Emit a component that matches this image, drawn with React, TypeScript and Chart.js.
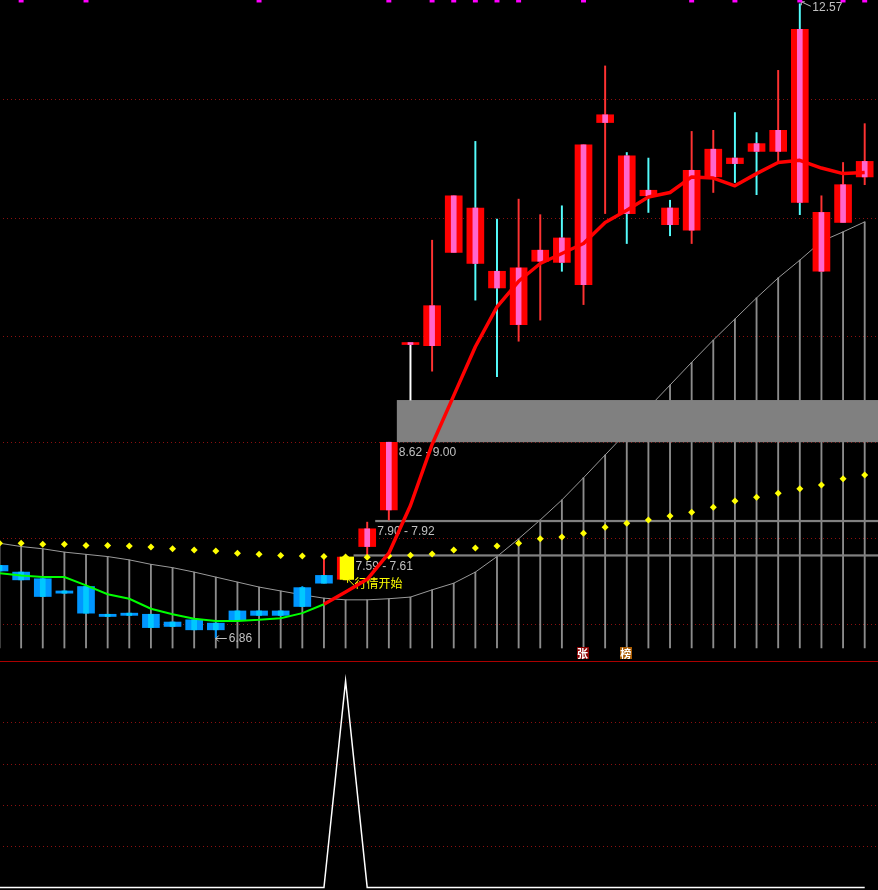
import React, { useEffect, useRef } from 'react';
import { Chart, registerables } from 'chart.js';

Chart.register(...registerables);

// ---------- data ----------
const opens = [7.51, 7.45, 7.39, 7.28, 7.32, 7.07, 7.08, 7.07, 7.00, 7.02, 6.99, 7.10, 7.10, 7.10, 7.31, 7.35, 7.38, 7.68, 8.01, 9.50, 9.49, 10.33, 10.73, 10.16, 9.68, 10.25, 10.46, 10.04, 11.50, 11.20, 10.89, 10.73, 10.53, 11.01, 11.18, 11.31, 11.24, 12.34, 10.16, 10.60, 11.01];
const closes = [7.46, 7.38, 7.23, 7.26, 7.08, 7.05, 7.06, 6.95, 6.96, 6.93, 6.93, 7.02, 7.06, 7.06, 7.14, 7.42, 7.59, 7.84, 8.62, 9.50, 9.85, 10.84, 10.23, 10.01, 10.19, 10.35, 10.24, 11.30, 11.57, 10.68, 10.84, 10.58, 11.07, 11.26, 11.13, 11.24, 11.43, 10.78, 10.69, 10.94, 11.15];
const highs = [7.51, 7.45, 7.39, 7.28, 7.32, 7.07, 7.08, 7.07, 7.00, 7.02, 6.99, 7.10, 7.10, 7.10, 7.32, 7.59, 7.59, 7.90, 8.62, 9.50, 10.44, 10.84, 11.33, 10.63, 10.81, 10.67, 10.75, 11.30, 12.01, 11.23, 11.18, 10.80, 11.42, 11.43, 11.59, 11.41, 11.97, 12.57, 10.84, 11.14, 11.49];
const lows = [7.46, 7.38, 7.23, 7.26, 7.08, 7.05, 7.06, 6.95, 6.96, 6.93, 6.86, 7.02, 7.06, 7.06, 7.14, 7.35, 7.38, 7.61, 7.92, 9.00, 9.26, 10.33, 9.90, 9.21, 9.53, 9.72, 10.16, 9.86, 10.68, 10.41, 10.69, 10.48, 10.41, 10.87, 10.96, 10.85, 11.14, 10.67, 10.16, 10.60, 10.94];

// trend line (green before the signal, red after)
const trendLine = [7.44, 7.42, 7.405, 7.405, 7.33, 7.25, 7.21, 7.12, 7.07, 7.03, 7.01, 7.01, 7.02, 7.035, 7.08, 7.16, 7.27, 7.385, 7.62, 8.05, 8.60, 9.04, 9.48, 9.84, 10.07, 10.23, 10.32, 10.41, 10.60, 10.71, 10.83, 10.87, 11.01, 11.00, 10.93, 11.04, 11.14, 11.16, 11.09, 11.04, 11.05];
// slow gray curve (with sticks)
const slowLine = [7.71, 7.68, 7.66, 7.63, 7.61, 7.59, 7.56, 7.52, 7.49, 7.45, 7.405, 7.36, 7.315, 7.28, 7.245, 7.215, 7.20, 7.20, 7.21, 7.225, 7.29, 7.35, 7.45, 7.59, 7.75, 7.92, 8.10, 8.30, 8.505, 8.71, 8.93, 9.135, 9.34, 9.54, 9.73, 9.92, 10.10, 10.26, 10.43, 10.515, 10.605];
// yellow dotted line
const dotLine = [7.71, 7.71, 7.70, 7.70, 7.69, 7.69, 7.685, 7.675, 7.66, 7.65, 7.64, 7.62, 7.61, 7.60, 7.595, 7.59, 7.585, 7.583, 7.595, 7.602, 7.613, 7.649, 7.667, 7.685, 7.71, 7.75, 7.765, 7.80, 7.855, 7.89, 7.92, 7.955, 7.99, 8.035, 8.09, 8.125, 8.16, 8.20, 8.235, 8.29, 8.325];
// bottom panel signal
const startSignal = [0, 0, 0, 0, 0, 0, 0, 0, 0, 0, 0, 0, 0, 0, 0, 0, 1, 0, 0, 0, 0, 0, 0, 0, 0, 0, 0, 0, 0, 0, 0, 0, 0, 0, 0, 0, 0, 0, 0, 0, 0];

const signalIndex = 16;
const signalText = '行情开始';
const gapStart = [16, 17, 18];
const gapLow = [7.59, 7.90, 8.62];
const gapHigh = [7.61, 7.92, 9.00];
const topMarks = [1, 4, 12, 18, 20, 21, 22, 23, 24, 27, 32, 34, 37, 39, 40];
const iconIdx = [27, 29];
const iconText = ['张', '榜'];
const iconColors = ['#8a0000', '#a85a00'];
const gridLevels = [11.712, 10.64, 9.577, 8.622, 7.757, 6.982];
const subGridLevels = [0.2, 0.4, 0.6, 0.8];
const stickBase = 6.766;

// ---------- axis ranges ----------
const xMin = 0.023;
const xMax = 40.615;
const priceMin = 6.649;
const priceMax = 12.604;
const subMin = -0.0121;
const subMax = 1.0969;

const idx = opens.map((_, i) => i);

const RED = '#ff0000';
const PINK = '#ff66cc';
const BLUE = '#0096ff';
const LBLUE = '#00c8ff';
const YELLOW = '#ffff00';
const GRID = '#8c1010';
const LABEL = '#c0c0c0';

const bodyColor = (i: number) => (i < signalIndex ? BLUE : i === signalIndex ? YELLOW : RED);
const stripeColor = (i: number) => (i < signalIndex ? LBLUE : i === signalIndex ? YELLOW : PINK);
const wickColor = (i: number) =>
  opens[i] === closes[i] ? '#ffffff' : closes[i] > opens[i] ? '#ff3232' : i < signalIndex ? BLUE : '#54fcfc';

function drawDotted(chart: any, levels: number[]) {
  const { ctx, chartArea, scales } = chart;
  ctx.save();
  ctx.strokeStyle = GRID;
  ctx.lineWidth = 1;
  ctx.setLineDash([1, 3]);
  levels.forEach((v) => {
    const y = Math.round(scales.y.getPixelForValue(v)) + 0.5;
    ctx.beginPath();
    ctx.moveTo(chartArea.left + 3, y);
    ctx.lineTo(chartArea.right, y);
    ctx.stroke();
  });
  ctx.restore();
}

function drawGaps(chart: any) {
  const { ctx, chartArea, scales } = chart;
  ctx.save();
  ctx.fillStyle = '#808080';
  gapStart.forEach((s, k) => {
    const x0 = scales.x.getPixelForValue(s) + 8;
    const yTop = scales.y.getPixelForValue(gapHigh[k]);
    const yBot = scales.y.getPixelForValue(gapLow[k]);
    ctx.fillRect(x0, yTop, chartArea.right - x0, Math.max(1, yBot - yTop));
  });
  ctx.restore();
}

function drawLabels(chart: any) {
  const { ctx, scales } = chart;
  const x = scales.x;
  const y = scales.y;
  ctx.save();
  ctx.font = '12px "Liberation Sans", Arial, sans-serif';
  ctx.fillStyle = LABEL;
  ctx.strokeStyle = LABEL;
  ctx.lineWidth = 1;
  ctx.textBaseline = 'top';
  gapStart.forEach((s, k) => {
    ctx.fillText(
      `${gapLow[k].toFixed(2)} - ${gapHigh[k].toFixed(2)}`,
      x.getPixelForValue(s) + 10,
      y.getPixelForValue(gapLow[k]) + 4
    );
  });

  // highest high
  let hi = 0;
  let lo = 0;
  highs.forEach((v, i) => { if (v > highs[hi]) hi = i; });
  lows.forEach((v, i) => { if (v < lows[lo]) lo = i; });
  const hx = x.getPixelForValue(hi);
  const hy = y.getPixelForValue(highs[hi]);
  ctx.beginPath();
  ctx.moveTo(hx + 1.5, hy - 2);
  ctx.lineTo(hx + 11, hy + 2.5);
  ctx.moveTo(hx + 1.5, hy - 2);
  ctx.lineTo(hx + 5, hy - 2);
  ctx.moveTo(hx + 1.5, hy - 2);
  ctx.lineTo(hx + 1.5, hy + 1.5);
  ctx.stroke();
  ctx.textBaseline = 'middle';
  ctx.fillText(highs[hi].toFixed(2), hx + 12.5, hy + 4);

  // lowest low
  const lx = x.getPixelForValue(lo);
  const ly = Math.round(y.getPixelForValue(lows[lo])) + 0.5;
  ctx.beginPath();
  ctx.moveTo(lx, ly);
  ctx.lineTo(lx + 11, ly);
  ctx.moveTo(lx, ly);
  ctx.lineTo(lx + 3, ly - 3);
  ctx.moveTo(lx, ly);
  ctx.lineTo(lx + 3, ly + 3);
  ctx.stroke();
  ctx.fillText(lows[lo].toFixed(2), lx + 13, ly);

  // signal label
  const sx = x.getPixelForValue(signalIndex);
  const sy = y.getPixelForValue(Math.min(opens[signalIndex], closes[signalIndex]));
  ctx.strokeStyle = YELLOW;
  ctx.fillStyle = YELLOW;
  ctx.beginPath();
  ctx.moveTo(sx + 2, sy - 1);
  ctx.lineTo(sx + 9, sy + 6);
  ctx.moveTo(sx + 2, sy - 1);
  ctx.lineTo(sx + 6, sy - 1);
  ctx.moveTo(sx + 2, sy - 1);
  ctx.lineTo(sx + 2, sy + 3);
  ctx.stroke();
  ctx.font = '12px "Noto Sans CJK SC", sans-serif';
  ctx.fillText(signalText, sx + 9, sy + 4);
  ctx.restore();
}

function drawIcons(chart: any) {
  const { ctx, scales } = chart;
  ctx.save();
  ctx.font = 'bold 11px "Noto Sans CJK SC", sans-serif';
  ctx.textAlign = 'center';
  ctx.textBaseline = 'middle';
  const top = Math.round(scales.y.getPixelForValue(stickBase)) - 1;
  iconIdx.forEach((i, k) => {
    const cx = scales.x.getPixelForValue(i) - 1;
    ctx.fillStyle = iconColors[k];
    ctx.fillRect(Math.round(cx - 6), top, 12, 12);
    ctx.fillStyle = '#ffffff';
    ctx.fillText(iconText[k], cx, top + 6.5);
  });
  ctx.restore();
}

const topPlugin = {
  id: 'topExtras',
  beforeDatasetsDraw(chart: any) {
    drawDotted(chart, gridLevels);
  },
  beforeDatasetDraw(chart: any, args: any) {
    const label = chart.data.datasets[args.index].label;
    if (label === 'wick') drawGaps(chart);
    if (label === 'trendUp') drawLabels(chart);
  },
  afterDatasetsDraw(chart: any) {
    drawIcons(chart);
  },
};

const bottomPlugin = {
  id: 'bottomExtras',
  beforeDatasetsDraw(chart: any) {
    drawDotted(chart, subGridLevels);
    const { ctx, chartArea } = chart;
    ctx.save();
    ctx.strokeStyle = '#aa0000';
    ctx.lineWidth = 1;
    ctx.beginPath();
    ctx.moveTo(chartArea.left, 0.5);
    ctx.lineTo(chartArea.right, 0.5);
    ctx.stroke();
    ctx.restore();
  },
};

const commonOptions = (yMin: number, yMax: number) => ({
  responsive: false,
  devicePixelRatio: 1,
  animation: false as const,
  events: [] as any[],
  layout: { padding: 0, autoPadding: false },
  plugins: { legend: { display: false }, tooltip: { enabled: false } },
  scales: {
    x: { type: 'linear' as const, min: xMin, max: xMax, display: false, offset: false },
    y: { type: 'linear' as const, min: yMin, max: yMax, display: false },
  },
});

export default function App() {
  const topRef = useRef<HTMLCanvasElement>(null);
  const botRef = useRef<HTMLCanvasElement>(null);

  useEffect(() => {
    document.body.style.margin = '0';
    document.body.style.background = '#000';

    const topChart = new Chart(topRef.current as HTMLCanvasElement, {
      type: 'bar',
      data: {
        datasets: [
          {
            type: 'bar',
            label: 'stick',
            data: idx.map((i) => ({ x: i, y: [stickBase, slowLine[i]] })),
            backgroundColor: '#8c8c8c',
            barThickness: 1.2,
            grouped: false,
            order: 10,
          } as any,
          {
            type: 'line',
            label: 'slow',
            data: idx.map((i) => ({ x: i, y: slowLine[i] })),
            borderColor: '#9a9a9a',
            borderWidth: 1,
            pointRadius: 0,
            tension: 0,
            order: 9,
          },
          {
            type: 'bar',
            label: 'wick',
            data: idx.map((i) => ({ x: i, y: [lows[i], highs[i]] })),
            backgroundColor: (c: any) => wickColor(c.dataIndex),
            barThickness: 1.3,
            grouped: false,
            order: 8,
          } as any,
          {
            type: 'bar',
            label: 'body',
            data: idx.map((i) => ({ x: i, y: [Math.min(opens[i], closes[i]), Math.max(opens[i], closes[i])] })),
            backgroundColor: (c: any) => bodyColor(c.dataIndex),
            borderColor: RED,
            borderWidth: (c: any) => (c.dataIndex === signalIndex ? { left: 3, right: 0, top: 0, bottom: 0 } : 0),
            borderSkipped: false,
            barThickness: 17,
            minBarLength: 2,
            grouped: false,
            order: 7,
          } as any,
          {
            type: 'bar',
            label: 'stripe',
            data: idx.map((i) => ({ x: i, y: [Math.min(opens[i], closes[i]), Math.max(opens[i], closes[i])] })),
            backgroundColor: (c: any) => stripeColor(c.dataIndex),
            barThickness: 5,
            minBarLength: 2,
            grouped: false,
            order: 6,
          } as any,
          {
            type: 'line',
            label: 'dots',
            data: idx.map((i) => ({ x: i, y: dotLine[i] })),
            showLine: false,
            pointStyle: 'rectRot',
            pointRadius: 3.5,
            pointBackgroundColor: YELLOW,
            pointBorderWidth: 0,
            order: 5,
          },
          {
            type: 'line',
            label: 'trendDown',
            data: idx.filter((i) => i < signalIndex).map((i) => ({ x: i, y: trendLine[i] })),
            borderColor: '#00ff00',
            borderWidth: 2,
            pointRadius: 0,
            tension: 0,
            order: 4,
          },
          {
            type: 'line',
            label: 'trendUp',
            data: idx.filter((i) => i >= signalIndex - 1).map((i) => ({ x: i, y: trendLine[i] })),
            borderColor: RED,
            borderWidth: 3.5,
            borderJoinStyle: 'round',
            pointRadius: 0,
            tension: 0,
            order: 3,
          },
          {
            type: 'line',
            label: 'marks',
            data: topMarks.map((i) => ({ x: i, y: priceMax })),
            showLine: false,
            pointStyle: 'rect',
            pointRadius: 3.5,
            pointBackgroundColor: '#ff00ff',
            pointBorderWidth: 0,
            clip: false,
            order: 2,
          } as any,
        ],
      },
      options: commonOptions(priceMin, priceMax) as any,
      plugins: [topPlugin],
    });

    const botChart = new Chart(botRef.current as HTMLCanvasElement, {
      type: 'line',
      data: {
        datasets: [
          {
            label: 'signal',
            data: idx.map((i) => ({ x: i, y: startSignal[i] })),
            borderColor: '#ffffff',
            borderWidth: 1.5,
            pointRadius: 0,
            tension: 0,
          },
        ],
      },
      options: commonOptions(subMin, subMax) as any,
      plugins: [bottomPlugin],
    });

    return () => {
      topChart.destroy();
      botChart.destroy();
    };
  }, []);

  return (
    <div style={{ position: 'absolute', left: 0, top: 0, width: 878, height: 890, background: '#000' }}>
      <canvas ref={topRef} width={878} height={661} style={{ display: 'block', width: 878, height: 661 }} />
      <canvas ref={botRef} width={878} height={229} style={{ display: 'block', width: 878, height: 229 }} />
    </div>
  );
}
